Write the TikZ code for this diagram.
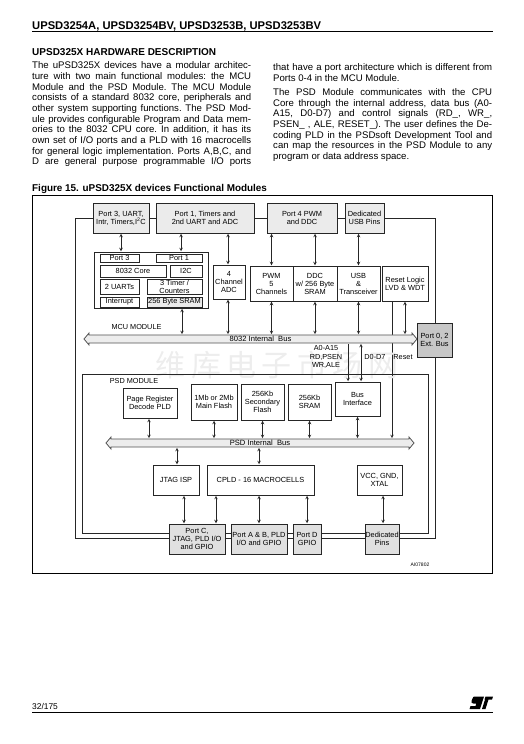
\documentclass[tikz,border=0pt]{standalone}
\usepackage{fontspec}
\setmainfont{Liberation Sans}
\newfontfamily\cjkmark[LetterSpace=18]{Noto Sans CJK SC}
\usepackage{xcolor}
\usetikzlibrary{shapes.arrows, arrows, calc, backgrounds}
\definecolor{boxline}{gray}{0.15}
\definecolor{portfill}{gray}{0.92}
\definecolor{padfill}{gray}{0.88}
\definecolor{extfill}{gray}{0.78}
\definecolor{busfill}{gray}{0.93}
\tikzstyle{plain} = [rectangle, draw=boxline, line width=0.9pt, fill=white, inner sep=0pt, text centered, align=center, font=\fontsize{7.4}{8}\selectfont]
\tikzstyle{port} = [plain, fill=portfill]
\tikzstyle{pad} = [plain, fill=padfill, minimum height=30pt]
\tikzstyle{cell} = [plain, line width=0.8pt, minimum height=35pt, minimum width=43pt]
\tikzstyle{mem} = [plain, minimum height=36pt]
\tikzstyle{logic} = [plain, minimum height=30pt]
\tikzstyle{small} = [plain, line width=0.8pt, minimum width=39pt]
\tikzstyle{bus} = [double arrow, draw=boxline!80, line width=0.8pt, fill=busfill, inner sep=0pt, double arrow head extend=1.5pt, double arrow tip angle=100, minimum width=12pt, font=\fontsize{7.6}{8}\selectfont]
\tikzstyle{tag} = [inner sep=0pt, align=center, font=\fontsize{7.3}{8.2}\selectfont]
\tikzstyle{link} = [line width=0.6pt, draw=boxline, <->, >=stealth, shorten >=0.3pt, shorten <=0.3pt]
\tikzstyle{wire} = [line width=0.9pt, draw=boxline]
\tikzstyle{rule} = [line width=0.8pt, draw=black]
\tikzstyle{body} = [inner sep=0pt, anchor=north west, text width=219pt, align=justify, font=\fontsize{9.6}{10.7}\selectfont\frenchspacing]
\tikzstyle{head} = [inner sep=0pt, anchor=base west, font=\bfseries]

\begin{document}
\begin{tikzpicture}[x=1pt, y=-1pt]
    \useasboundingbox (0,0) rectangle (524,744);
    % page text
    \node (title) [head, font=\fontsize{11.2}{12}\selectfont\bfseries] at (32,29) {UPSD3254A, UPSD3254BV, UPSD3253B, UPSD3253BV};
    \coordinate (titleL) at (32,31.3);
    \coordinate (titleR) at (493,31.3);
    \draw [rule] (titleL) -- (titleR);
    \node (section) [head, font=\fontsize{10}{11}\selectfont\bfseries] at (32,55.3) {UPSD325X HARDWARE DESCRIPTION};
    \node (colA) [body] at (32,61.5) {The uPSD325X devices have a modular architec-\linebreak
        ture with two main functional modules: the MCU\linebreak
        Module and the PSD Module. The MCU Module\linebreak
        consists of a standard 8032 core, peripherals and\linebreak
        other system supporting functions. The PSD Mod-\linebreak
        ule provides configurable Program and Data mem-\linebreak
        ories to the 8032 CPU core. In addition, it has its\linebreak
        own set of I/O ports and a PLD with 16 macrocells\linebreak
        for general logic implementation. Ports A,B,C, and\linebreak
        D are general purpose programmable I/O ports\linebreak};
    \node (colB) [body] at (273,63.5) {that have a port architecture which is different from\linebreak
        Ports 0-4 in the MCU Module.\par\vspace{3.3pt}
        The PSD Module communicates with the CPU\linebreak
        Core through the internal address, data bus (A0-\linebreak
        A15, D0-D7) and control signals (RD\_, WR\_,\linebreak
        PSEN\_ , ALE, RESET\_). The user defines the De-\linebreak
        coding PLD in the PSDsoft Development Tool and\linebreak
        can map the resources in the PSD Module to any\linebreak
        program or data address space.};
    \node (caption) [head, font=\fontsize{9.9}{11}\selectfont\bfseries] at (32,191) {Figure 15. uPSD325X devices Functional Modules};
    \node (frame) [draw=black, line width=0.8pt, minimum width=460pt, minimum height=378pt, inner sep=0pt] at (262.5,384) {};
    \node (mark) [inner sep=0pt, text=black!7, font=\fontsize{30}{32}\selectfont\cjkmark] at (277,365) {维库电子市场网};

    % ports along the top
    \node (port3) [port, minimum width=56pt, minimum height=30pt] at (121,218) {Port 3, UART,\\Intr, Timers,I\textsuperscript{2}C};
    \node (port1) [port, minimum width=98pt, minimum height=30pt, right of=port3, node distance=84pt] {Port 1, Timers and\\2nd UART and ADC};
    \node (port4) [port, minimum width=70pt, minimum height=30pt, right of=port1, node distance=97pt] {Port 4 PWM\\and DDC};
    \node (usbpins) [port, minimum width=39pt, minimum height=30pt, right of=port4, node distance=62.5pt] {Dedicated\\USB Pins};

    % MCU core block
    \node (core) [plain, minimum width=114pt, minimum height=56pt] at (151,280) {};
    \node (port3s) [small, minimum height=8pt] at (119.5,258) {Port 3};
    \node (port1s) [small, minimum width=46pt, minimum height=8pt, right of=port3s, node distance=59.5pt] {Port 1};
    \node (cpu) [small, minimum width=66pt, minimum height=12pt] at (133,271) {8032 Core};
    \node (i2c) [small, minimum width=32pt, minimum height=12pt, right of=cpu, node distance=53pt] {I2C};
    \node (uarts) [small, minimum height=15pt] at (119.5,286.5) {2 UARTs};
    \node (timers) [small, minimum width=55pt, minimum height=15pt, right of=uarts, node distance=55pt] {3 Timer /\\Counters};
    \node (intr) [small, minimum height=10pt] at (119.5,302) {Interrupt};
    \node (sram) [small, minimum width=55pt, minimum height=10pt, fill=portfill, right of=intr, node distance=55pt] {256 Byte SRAM};

    % peripherals
    \node (adc) [plain, line width=0.8pt, minimum width=32pt, minimum height=34pt] at (229,282) {4\\Channel\\ADC};
    \node (pwm) [cell] at (271.5,283.5) {PWM\\5\\Channels};
    \node (ddc) [cell, right of=pwm, node distance=43.5pt, minimum width=44pt] {DDC\\w/ 256 Byte\\SRAM};
    \node (usb) [cell, right of=ddc, node distance=43.5pt] {USB\\\&\\Transceiver};
    \node (reset) [cell, minimum width=46pt, right of=usb, node distance=46.5pt] {Reset Logic\\LVD \& WDT};

    \node (mcubus) [bus, minimum height=333pt] at (250.5,339) {\hspace{20pt}8032 Internal\ \ Bus};
    \node (extbus) [plain, fill=extfill, minimum width=35pt, minimum height=34pt] at (434.5,340) {Port 0, 2\\Ext. Bus};
    \node (mcutag) [tag] at (136.5,327) {MCU MODULE};
    \node (addrtag) [tag] at (326,357) {A0-A15\\RD,PSEN\\WR,ALE};
    \node (datatag) [tag] at (375,357) {D0-D7};
    \node (resettag) [tag] at (403,357) {Reset};

    % PSD module
    \node (psdbox) [draw=boxline, line width=0.9pt, minimum width=346pt, minimum height=159pt, inner sep=0pt] at (255,453.5) {};
    \node (psdtag) [tag] at (134,381) {PSD MODULE};
    \node (pagereg) [logic, minimum width=54pt] at (150,403) {Page Register\\Decode PLD};
    \node (mainflash) [mem, minimum width=46pt] at (214,402) {1Mb or 2Mb\\Main Flash};
    \node (secflash) [mem, minimum width=43pt, right of=mainflash, node distance=48.5pt] {256Kb\\Secondary\\Flash};
    \node (psdsram) [mem, minimum width=43pt, right of=secflash, node distance=47pt] {256Kb\\SRAM};
    \node (busif) [plain, minimum width=45pt, minimum height=34pt] at (357.5,399) {Bus\\Interface};
    \node (psdbus) [bus, minimum height=308pt] at (260,443) {PSD Internal\ \ Bus};
    \node (jtag) [logic, minimum width=46pt] at (176,480) {JTAG ISP};
    \node (cpld) [logic, minimum width=107pt, right of=jtag, node distance=84.5pt] {CPLD - 16 MACROCELLS};
    \node (vcc) [logic, minimum width=45pt] at (379.5,480) {VCC, GND,\\XTAL};

    % pads along the bottom
    \node (portc) [pad, minimum width=56pt] at (197,539) {Port C,\\JTAG, PLD I/O\\and GPIO};
    \node (portab) [pad, minimum width=56pt, right of=portc, node distance=62pt] {Port A \& B, PLD\\I/O and GPIO};
    \node (portd) [pad, minimum width=28pt, right of=portab, node distance=48pt] {Port D\\GPIO};
    \node (pins) [pad, minimum width=34pt, right of=portd, node distance=75pt] {Dedicated\\Pins};
    \node (partno) [tag, font=\fontsize{5}{6}\selectfont] at (420,565) {AI07802};

    % long wires of the two modules
    \begin{pgfonlayer}{background}
    \draw [wire] (port3.west) -- ++(-17,0) |- ([yshift=1pt]portc.west);
    \draw [wire] (port3) -- (port1);
    \draw [wire] (port1) -- (port4);
    \draw [wire] (port4) -- (usbpins);
    \draw [wire] (usbpins.east) -- ++(50.5,0) |- ([yshift=1pt]pins.east);
    \draw [wire] ([yshift=1pt]portd.east) -- ([yshift=1pt]pins.west);
    \draw [wire] ([yshift=1pt]portc.east) -- ([yshift=1pt]portab.west);
    \draw [wire] ([yshift=1pt]portab.east) -- ([yshift=1pt]portd.west);
    \draw [link, ->] (reset.south -| 392,0) -- (psdbus.north -| 392,0);
    \end{pgfonlayer}

    % links
    \draw [link] (port3.south) -- (port3.south |- core.north);
    \draw [link] ([xshift=2pt]port1s.north |- port1.south) -- ([xshift=2pt]port1s.north |- core.north);
    \draw [link] (adc.north -| 228,0) -- (port1.south -| 228,0);
    \draw [link] (port4.south -| pwm) -- (pwm.north);
    \draw [link] (port4.south -| ddc) -- (ddc.north);
    \draw [link] (usbpins.south -| usb) -- (usb.north);
    \draw [link] ([xshift=31pt]core.south) -- ([xshift=31pt]core.south |- mcubus.north);
    \draw [link] (adc.south -| 228,0) -- (mcubus.north -| 228,0);
    \draw [link] (pwm) -- (pwm |- mcubus.north);
    \draw [link] (ddc) -- (ddc |- mcubus.north);
    \draw [link] (usb) -- (usb |- mcubus.north);
    \draw [link] (reset.south -| 405,0) -- (mcubus.north -| 405,0);
    \draw [link, <-] (busif.north -| 348,0) -- (mcubus.south -| 348,0);
    \draw [link] (busif.north -| 361,0) -- (mcubus.south -| 361,0);
    \draw [link] (pagereg.south -| 149,0) -- (psdbus.north -| 149,0);
    \draw [link] (mainflash) -- (mainflash |- psdbus.north);
    \draw [link] (secflash) -- (secflash |- psdbus.north);
    \draw [link] (psdsram) -- (psdsram |- psdbus.north);
    \draw [link] (busif) -- (busif |- psdbus.north);
    \draw [link] (psdbus.south -| 177,0) -- (jtag.north -| 177,0);
    \draw [link] (psdbus.south -| 259,0) -- (cpld.north -| 259,0);
    \draw [link] (jtag.south -| 184,0) -- (portc.north -| 184,0);
    \draw [link] (cpld.south -| 216,0) -- (portc.north -| 216,0);
    \draw [link] (cpld.south -| 259,0) -- (portab.north -| 259,0);
    \draw [link] (cpld.south -| 307,0) -- (portd);
    \draw [link] (vcc.south -| 383,0) -- (pins.north -| 383,0);

    % page foot
    \node (folio) [head, font=\fontsize{8.4}{9}\selectfont] at (32,709) {32/175};
    \coordinate (footL) at (32,712.3);
    \coordinate (footR) at (493,712.3);
    \draw [rule] (footL) -- (footR);
    \fill [black] (474.5,696.5) -- (484,696.5) -- (480,709) -- (469.5,709) -- (470.5,706) -- (475.5,706) -- (476.3,703.5) -- (473.5,703.5) .. controls (471.5,703.5) and (471,702.5) .. (471.5,701) -- (472.5,698.5) .. controls (473,697) and (473.5,696.5) .. (474.5,696.5) -- cycle;
    \fill [black] (485.5,696.5) -- (493,696.5) -- (492,699.5) -- (488.5,699.5) -- (485.5,709) -- (482,709) -- (485,699.5) -- (484.5,699.5) -- cycle;
\end{tikzpicture}
\end{document}
